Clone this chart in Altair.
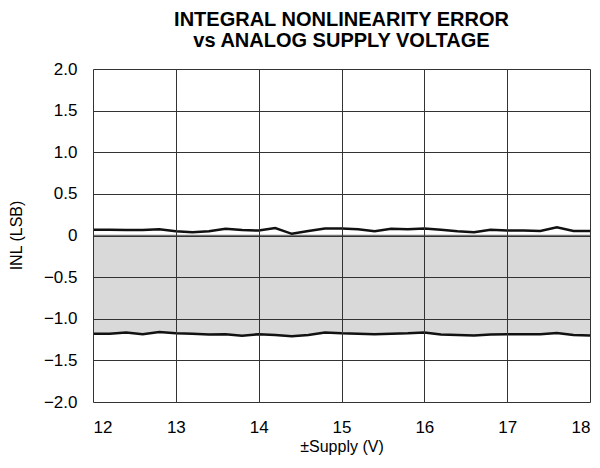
import altair as alt
import pandas as pd

supply = [12.0, 12.2, 12.4, 12.6, 12.8, 13.0, 13.2, 13.4, 13.6, 13.8, 14.0,
          14.2, 14.4, 14.6, 14.8, 15.0, 15.2, 15.4, 15.6, 15.8, 16.0,
          16.2, 16.4, 16.6, 16.8, 17.0, 17.2, 17.4, 17.6, 17.8, 18.0]
inl_max = [0.07, 0.07, 0.065, 0.065, 0.075, 0.05, 0.04, 0.05, 0.08, 0.065, 0.06,
           0.09, 0.02, 0.055, 0.085, 0.085, 0.075, 0.05, 0.08, 0.075, 0.085,
           0.07, 0.05, 0.04, 0.07, 0.06, 0.06, 0.055, 0.10, 0.055, 0.055]
inl_min = [-1.18, -1.18, -1.165, -1.185, -1.16, -1.175, -1.18, -1.19, -1.185, -1.205, -1.185,
           -1.195, -1.21, -1.195, -1.165, -1.175, -1.18, -1.185, -1.18, -1.175, -1.165,
           -1.19, -1.195, -1.2, -1.19, -1.185, -1.185, -1.185, -1.17, -1.195, -1.2]
x_ticks = [12, 13, 14, 15, 16, 17, 18]
y_ticks = [2.0, 1.5, 1.0, 0.5, 0.0, -0.5, -1.0, -1.5, -2.0]

df = pd.DataFrame({"supply": supply, "max": inl_max, "min": inl_min, "zero": [0.0] * len(supply)})

FONT = "Liberation Sans"

x_enc = alt.X("supply:Q",
              scale=alt.Scale(domain=[12, 18], nice=False, zero=False),
              axis=alt.Axis(values=x_ticks, format="d", title="±Supply (V)", ticks=False,
                            labelPadding=17, titlePadding=3, grid=True,
                            gridColor="#333333", gridWidth=1, domain=False,
                            labelFontSize=17, titleFontSize=16, labelColor="#000",
                            titleColor="#000", labelFont=FONT, titleFont=FONT,
                            titleFontWeight="normal", zindex=1))
y_scale = alt.Scale(domain=[-2, 2], nice=False)
y_axis = alt.Axis(values=y_ticks, title="INL (LSB)", ticks=False,
                  labelPadding=16, grid=True,
                  gridColor="#333333", gridWidth=1, domain=False,
                  labelFontSize=17, titleFontSize=16, labelColor="#000",
                  titleColor="#000", labelFont=FONT, titleFont=FONT,
                  titleFontWeight="normal", zindex=1,
                  titleX=-72, titleY=166, titleAngle=270,
                  titleAlign="center", titleBaseline="alphabetic",
                  labelExpr="datum.value == 0 ? '0' : replace(format(datum.value, '.1f'), '-', '–')")

base = alt.Chart(df)

area = base.mark_area(color="#d9d9d9", opacity=1).encode(
    x=x_enc,
    y=alt.Y("zero:Q", scale=y_scale, axis=y_axis),
    y2="min:Q",
)
zero_line = base.mark_line(color="#777777", strokeWidth=1.5).encode(
    x="supply:Q", y=alt.Y("zero:Q", scale=y_scale))
line_max = base.mark_line(color="#111111", strokeWidth=2.5).encode(
    x="supply:Q", y=alt.Y("max:Q", scale=y_scale))
line_min = base.mark_line(color="#111111", strokeWidth=2.5).encode(
    x="supply:Q", y=alt.Y("min:Q", scale=y_scale))

chart = alt.layer(area, zero_line, line_max, line_min).properties(
    width=497, height=333,
    title=alt.TitleParams(
        text=["INTEGRAL NONLINEARITY ERROR", "vs ANALOG SUPPLY VOLTAGE"],
        font=FONT, fontSize=20, fontWeight="bold", color="#000",
        anchor="middle", offset=9, lineHeight=21),
    autosize=alt.AutoSizeParams(type="none"),
    padding={"left": 85, "top": 61, "right": 2, "bottom": 58},
).configure_view(stroke="#000000", strokeWidth=2).configure(background="white")

chart.save("out.html", embed_options={"renderer": "svg", "actions": False})
